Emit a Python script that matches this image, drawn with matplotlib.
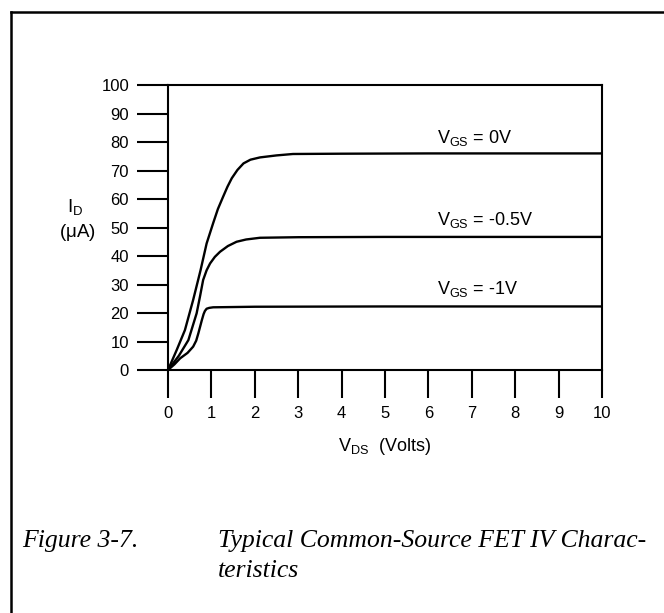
import numpy as np
import matplotlib.pyplot as plt
from matplotlib.lines import Line2D

plt.rcParams['font.family'] = ['Liberation Sans', 'DejaVu Sans']

# drain current curves, read per gate voltage
vds_0 = [0, 0.2, 0.39, 0.58, 0.75, 0.89, 1.04, 1.15, 1.27, 1.37, 1.47, 1.6, 1.74, 1.9,
         2.12, 2.5, 2.88, 4, 6, 8, 10]
id_0 = [0, 7, 14, 24.6, 35, 44.4, 51.5, 56.5, 60.8, 64.3, 67.3, 70.2, 72.5, 73.8,
        74.6, 75.3, 75.8, 75.9, 76, 76, 76]

vds_05 = [0, 0.25, 0.47, 0.66, 0.74, 0.81, 0.89, 0.97, 1.08, 1.2, 1.38, 1.58, 1.8,
          2.12, 3, 5, 10]
id_05 = [0, 5, 10.5, 19.9, 26, 31.6, 35, 37.4, 39.7, 41.5, 43.5, 45, 45.8,
         46.4, 46.6, 46.7, 46.7]

vds_1 = [0, 0.15, 0.28, 0.45, 0.58, 0.65, 0.70, 0.74, 0.78, 0.82, 0.85, 0.89, 0.95,
         1.04, 2, 5, 10]
id_1 = [0, 2, 4.1, 6, 8.2, 10.3, 12.9, 15.2, 17.5, 19.6, 20.7, 21.5, 21.8,
        22, 22.2, 22.3, 22.3]

curve_labels = [r'$\mathregular{V_{GS}}$ = 0V',
                r'$\mathregular{V_{GS}}$ = -0.5V',
                r'$\mathregular{V_{GS}}$ = -1V']
label_y = [78, 49, 25]


def run():
    fig = plt.figure(figsize=(6.64, 6.13), dpi=100)
    ax = fig.add_axes([0.253, 0.3964, 0.6536, 0.4649])

    for v, i in [(vds_0, id_0), (vds_05, id_05), (vds_1, id_1)]:
        ax.plot(v, i, color='black', lw=1.7, solid_joinstyle='round')

    for text, y in zip(curve_labels, label_y):
        ax.text(6.2, y, text, fontsize=13, ha='left', va='bottom')

    ax.set_xlim(0, 10)
    ax.set_ylim(0, 100)
    ax.set_xticks(np.arange(0, 11, 1))
    ax.set_yticks(np.arange(0, 101, 10))
    ax.tick_params(axis='y', direction='out', length=22, width=1.5, pad=6, labelsize=12)
    ax.tick_params(axis='x', direction='out', length=20, width=1.5, pad=6, labelsize=12)
    for s in ax.spines.values():
        s.set_linewidth(1.5)

    ax.set_xlabel(r'$\mathregular{V_{DS}}$  (Volts)', fontsize=13, labelpad=11)
    fig.text(0.113, 0.662, r'$\mathregular{I_D}$', fontsize=13.5, ha='center', va='center')
    fig.text(0.117, 0.621, r'($\mathregular{\mu}$A)', fontsize=13.5, ha='center', va='center')

    # page frame around the figure
    fig.add_artist(Line2D([0.017, 1.0], [0.981, 0.981], color='black', lw=1.8))
    fig.add_artist(Line2D([0.017, 0.017], [0.0, 0.981], color='black', lw=1.8))

    cap = dict(fontsize=18.5, style='italic', family='Liberation Serif', va='baseline')
    fig.text(0.034, 0.107, 'Figure 3-7.', **cap)
    fig.text(0.328, 0.107, 'Typical Common-Source FET IV Charac-', **cap)
    fig.text(0.328, 0.058, 'teristics', **cap)

    fig.savefig('out.png', dpi=100)


if __name__ == '__main__':
    run()
